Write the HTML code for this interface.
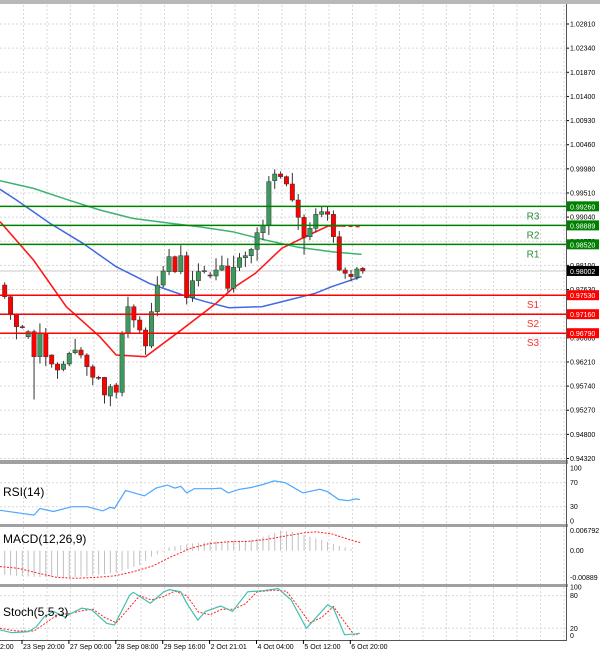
<!DOCTYPE html>
<html><head><meta charset="utf-8">
<style>
html,body{margin:0;padding:0;background:#fff;}
svg{display:block;font-family:"Liberation Sans",sans-serif;}
</style></head>
<body>
<svg id="c" width="600" height="655" viewBox="0 0 600 655" xmlns="http://www.w3.org/2000/svg"></svg>
<script>
const opens=[0.97728,0.97501,0.97144,0.96917,0.96722,0.96820,0.96333,0.96787,0.96365,0.96190,0.96086,0.96190,0.96411,0.96463,0.96365,0.96138,0.95931,0.95931,0.95567,0.95781,0.95639,0.96787,0.97306,0.97047,0.96852,0.96541,0.97209,0.97728,0.97988,0.98280,0.97988,0.98299,0.97482,0.97813,0.98001,0.97923,0.97904,0.98020,0.98098,0.97663,0.98072,0.98260,0.98299,0.98423,0.98747,0.98890,0.99760,0.99889,0.99838,0.99695,0.99383,0.99046,0.98669,0.98832,0.99104,0.99156,0.99104,0.98669,0.98020,0.97936,0.97878,0.98053];
const closes=[0.97501,0.97177,0.96917,0.96910,0.96820,0.96333,0.96787,0.96333,0.96190,0.96073,0.96190,0.96398,0.96463,0.96365,0.96138,0.95931,0.95925,0.95587,0.95749,0.95639,0.96774,0.97306,0.97047,0.96852,0.96541,0.97209,0.97728,0.98001,0.98280,0.97988,0.98299,0.97482,0.97813,0.97988,0.98007,0.97917,0.98020,0.98105,0.97663,0.98072,0.98260,0.98299,0.98423,0.98747,0.98890,0.99740,0.99889,0.99838,0.99695,0.99383,0.99046,0.98656,0.98832,0.99104,0.99156,0.99104,0.98669,0.98020,0.97955,0.97891,0.98040,0.98002];
const highs=[0.9778,0.9753,0.9716,0.9695,0.9685,0.9686,0.9698,0.9689,0.9638,0.9622,0.9625,0.9643,0.9668,0.9652,0.9640,0.9618,0.9596,0.9594,0.9580,0.9582,0.9683,0.9750,0.9735,0.9712,0.9690,0.9738,0.9790,0.9810,0.9843,0.9830,0.9850,0.9838,0.9800,0.9815,0.9810,0.9798,0.9825,0.9830,0.9825,0.9830,0.9835,0.9838,0.9845,0.9885,0.9900,0.9985,0.9998,0.9994,0.9986,0.9991,0.9950,0.9910,0.9895,0.9922,0.9925,0.9925,0.9918,0.9878,0.9807,0.9802,0.9808,0.9808];
const lows=[0.9746,0.9705,0.9667,0.9688,0.9668,0.9550,0.9620,0.9615,0.9612,0.9590,0.9605,0.9615,0.9638,0.9630,0.9596,0.9578,0.9588,0.9542,0.9537,0.9552,0.9556,0.9670,0.9690,0.9680,0.9637,0.9650,0.9712,0.9768,0.9792,0.9796,0.9794,0.9735,0.9740,0.9770,0.9795,0.9786,0.9782,0.9800,0.9760,0.9758,0.9800,0.9808,0.9815,0.9820,0.9860,0.9870,0.9960,0.9980,0.9965,0.9935,0.9880,0.9832,0.9860,0.9875,0.9905,0.9898,0.9855,0.9800,0.9785,0.9780,0.9783,0.9795];
const maFast=[[-0.8,0.98961],[4.9,0.98215],[10.5,0.97306],[16.2,0.96722],[19,0.96365],[24,0.96333],[29.7,0.96820],[36,0.97371],[38.8,0.97663],[42.7,0.97955],[47.2,0.98442],[51.8,0.98702],[55.1,0.98877],[57.4,0.98877]];
const maFastDash=[[57.4,0.98877],[60.8,0.98864]];
const maMid=[[-0.8,0.99591],[2,0.99383],[7.7,0.98929],[13.3,0.98540],[19,0.98085],[24.6,0.97761],[30.3,0.97534],[34.2,0.97404],[38.2,0.97287],[43.8,0.97306],[48.4,0.97436],[52.9,0.97566],[55.7,0.97696],[60.8,0.97891]];
const maSlow=[[-0.8,0.99760],[4.9,0.99610],[10.5,0.99396],[16.2,0.99189],[21.8,0.99026],[27.5,0.98942],[33.1,0.98864],[38.8,0.98767],[44.4,0.98605],[50,0.98462],[55.7,0.98377],[60.8,0.98325]];
const priceTicks=["1.02810","1.02340","1.01870","1.01400","1.00930","1.00460","0.99980","0.99510","0.99040","0.98570","0.98100","0.97630","0.97160","0.96680","0.96210","0.95740","0.95270","0.94800","0.94320"];
const levelNames=["R3","R2","R1","S1","S2","S3"];
const levelValues=[0.99260,0.98889,0.98520,0.97530,0.97160,0.96790];
const currentPrice=0.98002;
const rsiPts=[[-0.8,24],[5,16],[6,27],[8.3,22],[11.5,30],[14.1,30],[16.7,23],[18,29],[18.7,27],[20.6,57],[23.8,48],[25.8,61],[27.7,66],[29,61],[30,64],[31,53],[32.3,60],[35.5,60],[36.8,61],[38.1,53],[40,59],[42,62],[44,67],[45.9,73],[47.8,70],[50.8,53],[53.7,59],[55,55],[56.9,42],[58.5,40],[59.8,43],[60.5,42]];
const macdHist=[-0.0078,-0.0080,-0.0082,-0.0084,-0.0085,-0.0086,-0.0087,-0.0088,-0.0088,-0.0088,-0.0088,-0.0088,-0.0088,-0.0088,-0.0086,-0.0084,-0.0082,-0.0080,-0.0078,-0.0076,-0.0073,-0.0066,-0.0060,-0.0054,-0.0048,-0.0034,-0.0020,-0.0012,-0.0003,0.0011,0.0015,0.0018,0.0021,0.0024,0.0026,0.0028,0.0030,0.0031,0.0031,0.0032,0.0033,0.0034,0.0035,0.0036,0.0041,0.0047,0.0052,0.0060,0.0067,0.0065,0.0063,0.0058,0.0052,0.0047,0.0041,0.0036,0.0029,0.0023,0.0016,0.0011,0.0005,0.0001];
const macdSignal=[[-0.8,-0.0053],[2.4,-0.0059],[5.7,-0.0075],[8.9,-0.0089],[12.2,-0.0092],[15.4,-0.0089],[18.7,-0.0084],[21.9,-0.0070],[25.2,-0.0051],[28.4,-0.0020],[31.7,0.0008],[34.9,0.0024],[38.2,0.0030],[41.4,0.0031],[44.7,0.0038],[47.9,0.0049],[51.1,0.0060],[53.1,0.0063],[55.7,0.0056],[58.9,0.0036],[60.6,0.0027]];
const stochMain=[[-0.8,17],[1.2,12],[4.1,14],[5.4,23],[6.7,41],[8.3,51],[10.2,41],[13.1,57],[14.8,54],[17.4,29],[18.7,26],[21.3,81],[21.9,86],[24.8,66],[27.1,87],[28.1,91],[30,87],[31,66],[32.9,35],[34.2,51],[36.8,61],[38.8,51],[41.4,87],[44,89],[46.6,93],[48.8,72],[51.4,20],[55,63],[56,57],[57.9,8],[59.9,10],[60.5,11]];
const stochSignal=[[-0.8,20],[2,15],[5,15],[7,30],[9,45],[11,47],[13,52],[15,55],[17,40],[19,30],[21,55],[23,80],[25,72],[27,78],[29,88],[31,80],[33,50],[35,45],[37,55],[39,55],[41,65],[43,87],[46,90],[48,88],[50,60],[52,30],[54,40],[56,60],[58,30],[59.5,8],[60.5,10]];
const timeLabels=["2:00","23 Sep 20:00","27 Sep 00:00","28 Sep 08:00","29 Sep 16:00","2 Oct 21:01","4 Oct 04:00","5 Oct 12:00","6 Oct 20:00"];
const macdTicks=["0.006792","0.00","-0.00889"];
const macdTickVals=[0.006792,0,-0.00889];

const NS="http://www.w3.org/2000/svg";
const svg=document.getElementById('c');
function el(tag,attrs,parent){const e=document.createElementNS(NS,tag);for(const k in attrs)e.setAttribute(k,attrs[k]);(parent||svg).appendChild(e);return e;}
const PR=566;
const xI=i=>4.7+5.87*i;
const yP=p=>24+(1.0281-p)/0.0047*24.14;
const yR=v=>524.7-v*0.6;
const yM=v=>550.7-v/0.0001112/3;
const yS=v=>639.2-v*0.545;
function path(pts,fx,fy){return pts.map((p,k)=>(k?'L':'M')+fx(p[0]).toFixed(1)+' '+fy(p[1]).toFixed(1)).join(' ');}

// top border
let r=el('rect',{x:0,y:0,width:600,height:4,fill:'#b8b8b8'});


// grids
const grid=el('g',{stroke:'#d8d8d8','stroke-dasharray':'2,2','stroke-width':1});

for(let x=23.5;x<PR;x+=23.5){
  el('line',{x1:x,y1:5,x2:x,y2:460},grid);
  el('line',{x1:x,y1:465,x2:x,y2:524},grid);
  el('line',{x1:x,y1:527,x2:x,y2:584},grid);
  el('line',{x1:x,y1:587,x2:x,y2:640},grid);
}
priceTicks.forEach((t,k)=>{const y=24+k*24.14;el('line',{x1:0,y1:y,x2:PR,y2:y},grid);});
[70,30].forEach(v=>el('line',{x1:0,y1:yR(v),x2:PR,y2:yR(v)},grid));
[80,20].forEach(v=>el('line',{x1:0,y1:yS(v),x2:PR,y2:yS(v)},grid));

// price axis labels
const pax=el('g',{'font-size':7,fill:'#000'});

priceTicks.forEach((t,k)=>{const y=24+k*24.14;el('line',{x1:PR,y1:y,x2:PR+3,y2:y,stroke:'#000'},pax);const tx=el('text',{x:570,y:y+2.5},pax);tx.textContent=t;});

// current price line
let cl=el('line',{x1:0,y1:yP(currentPrice),x2:PR,y2:yP(currentPrice),stroke:'#c8c8c8'});


// MAs
let m1=el('path',{d:path(maSlow,xI,yP),fill:'none',stroke:'#3cb371','stroke-width':1.5});

let m2=el('path',{d:path(maMid,xI,yP),fill:'none',stroke:'#4169e1','stroke-width':1.5});

let m3=el('path',{d:path(maFast,xI,yP),fill:'none',stroke:'#ff1a1a','stroke-width':1.6});

let m4=el('path',{d:path(maFastDash,xI,yP),fill:'none',stroke:'#ff1a1a','stroke-width':1.6,'stroke-dasharray':'4,3'});


// candles
const cg=el('g',{});

opens.forEach((o,i)=>{
  const c=closes[i],x=xI(i),up=c>=o;
  const g=el('g',{},cg);
  
  
  el('line',{x1:x,y1:yP(highs[i]),x2:x,y2:yP(lows[i]),stroke:'#333','stroke-width':1},g);
  const top=yP(Math.max(o,c)),bot=yP(Math.min(o,c));
  el('rect',{x:x-2.2,y:top,width:4.4,height:Math.max(1,bot-top),fill:up?'#3c9a5c':'#ff0000',stroke:'#333','stroke-width':0.5},g);
});

// pivot levels
levelValues.forEach((v,k)=>{
  const res=levelNames[k][0]==='R',col=res?'#008000':'#ff0000',y=yP(v);
  const g=el('g',{});
  
  
  el('line',{x1:0,y1:y,x2:PR,y2:y,stroke:col,'stroke-width':1.5},g);
  const t=el('text',{x:533,y:y+13,'font-size':10,fill:res?'#2e8b3a':'#ff3030','text-anchor':'middle'},g);t.textContent=levelNames[k];
  el('rect',{x:567,y:y-5,width:32,height:10,fill:col},g);
  const t2=el('text',{x:570,y:y+3,'font-size':7,fill:'#fff'},g);t2.textContent=v.toFixed(5);
});
const cpg=el('g',{});

el('rect',{x:567,y:yP(currentPrice)-5,width:32,height:10,fill:'#000'},cpg);
let cpt=el('text',{x:570,y:yP(currentPrice)+3,'font-size':7,fill:'#fff'},cpg);cpt.textContent=currentPrice.toFixed(5);

// panel separators
[[460,4],[524,3],[584,3]].forEach(s=>{let b=el('rect',{x:0,y:s[0],width:PR+2,height:s[1],fill:'#a0a0a0'});});
let ax=el('line',{x1:PR+0.5,y1:4,x2:PR+0.5,y2:641,stroke:'#555'});
let bx=el('line',{x1:0,y1:640.5,x2:PR,y2:640.5,stroke:'#555'});

// RSI
let rl=el('path',{d:path(rsiPts,xI,yR),fill:'none',stroke:'#4da6ff','stroke-width':1.2});

let rt=el('text',{x:3,y:496,'font-size':12,fill:'#000'});rt.textContent='RSI(14)';

[100,70,30,0].forEach(v=>{let t=el('text',{x:570,y:yR(v)+(v===100?6:v===0?-1:2.5),'font-size':7});t.textContent=v;});

// MACD
const hg=el('g',{stroke:'#c0c0c0','stroke-width':1});

macdHist.forEach((v,k)=>{const x=xI(k-1);el('line',{x1:x,y1:yM(0),x2:x,y2:yM(v)},hg);});
let ms=el('path',{d:path(macdSignal,xI,yM),fill:'none',stroke:'#ff2020','stroke-width':1,'stroke-dasharray':'2,1.5'});

let mt=el('text',{x:3,y:543,'font-size':12});mt.textContent='MACD(12,26,9)';

macdTicks.forEach((t,k)=>{let tx=el('text',{x:570,y:yM(macdTickVals[k])+2.5,'font-size':7});tx.textContent=t;});

// Stoch
let ss=el('path',{d:path(stochSignal,xI,yS),fill:'none',stroke:'#ff2020','stroke-width':1,'stroke-dasharray':'2,1.5'});

let sm=el('path',{d:path(stochMain,xI,yS),fill:'none',stroke:'#40c0b0','stroke-width':1.2});

let st=el('text',{x:3,y:616,'font-size':12});st.textContent='Stoch(5,5,3)';

[100,80,20,0].forEach(v=>{let t=el('text',{x:570,y:yS(v)+(v===100?5:v===0?-1:2.5),'font-size':7});t.textContent=v;});

// time axis
const tg=el('g',{'font-size':7});

timeLabels.forEach((t,k)=>{const x=k===0?0:40+(k-1)*46.9;el('line',{x1:x-18,y1:640,x2:x-18,y2:644,stroke:'#000'},tg);const tx=el('text',{x:k===0?0:x-17,y:649},tg);tx.textContent=t;});
</script>
</body></html>
